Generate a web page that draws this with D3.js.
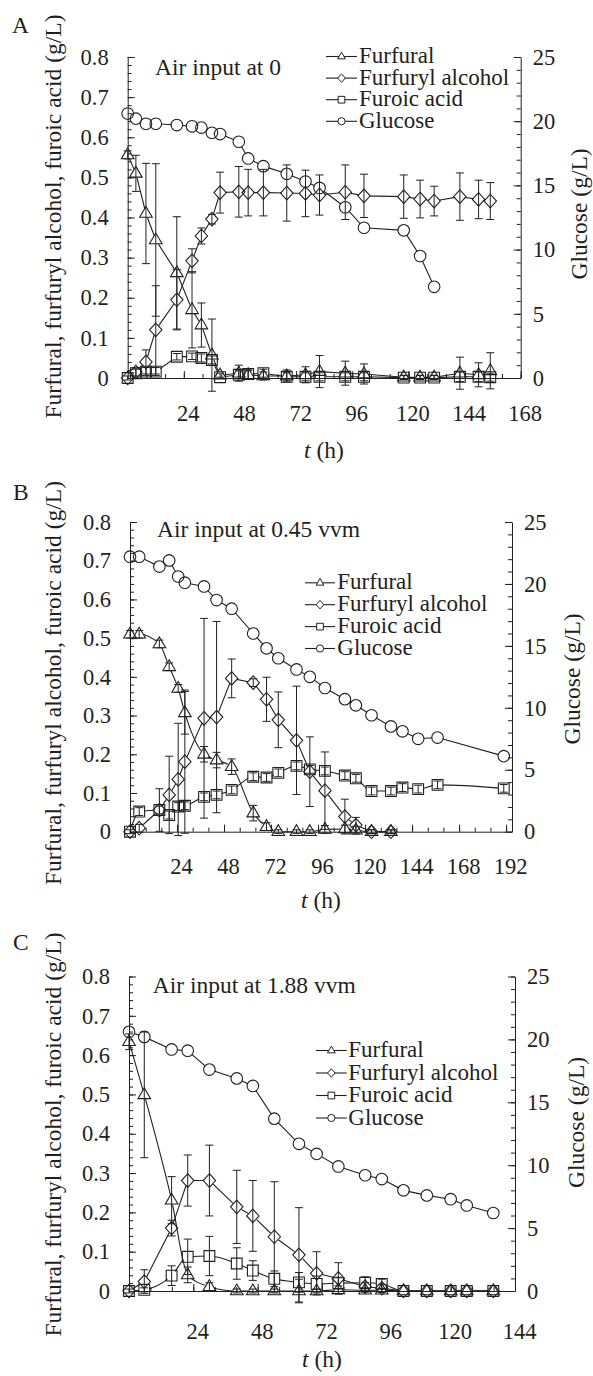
<!DOCTYPE html>
<html>
<head>
<meta charset="utf-8">
<script src="https://cdn.jsdelivr.net/npm/d3@7"></script>
<style>
  body { margin: 0; background: #fff; }
  svg text { font-family: "Liberation Serif", "Times New Roman", serif; fill: #231f20; }
</style>
</head>
<body>
<div id="chart"></div>
<script>
// ---- data ----
var seriesNames = ["Furfural", "Furfuryl alcohol", "Furoic acid", "Glucose"];
var leftTicks = [0, 0.1, 0.2, 0.3, 0.4, 0.5, 0.6, 0.7, 0.8];
var rightTicks = [0, 5, 10, 15, 20, 25];
var xTicksA = [24, 48, 72, 96, 120, 144, 168];
var xTicksB = [24, 48, 72, 96, 120, 144, 168, 192];
var xTicksC = [24, 48, 72, 96, 120, 144];

// A: air input at 0
var timeA = [0, 3.5, 7.8, 12, 21, 27.5, 31.5, 36, 39.5, 47.5, 51.5, 58, 68, 76, 82, 93, 101, 118, 125, 131, 142, 150, 155];
var furfuralA = [0.556, 0.51, 0.41, 0.344, 0.262, 0.17, 0.132, 0.057, 0.007, 0.012, 0.008, 0.005, 0.005, 0.008, 0.016, 0.012, 0.01, 0.002, 0.002, 0.002, 0.012, 0.008, 0.018];
var furfuralErrA = [0.01, 0.045, 0.125, 0.19, 0.14, 0.095, 0.055, 0.09, 0.005, 0.02, 0.01, 0.01, 0.015, 0.02, 0.04, 0.03, 0.025, 0.005, 0.005, 0.005, 0.04, 0.03, 0.045];
var alcoholA = [0, 0.015, 0.04, 0.12, 0.195, 0.292, 0.354, 0.396, 0.462, 0.464, 0.462, 0.462, 0.461, 0.46, 0.456, 0.463, 0.454, 0.452, 0.446, 0.441, 0.452, 0.445, 0.441];
var alcoholErrA = [0.005, 0.01, 0.03, 0.11, 0.075, 0.03, 0.02, 0.012, 0.051, 0.063, 0.058, 0.058, 0.07, 0.058, 0.05, 0.068, 0.054, 0.054, 0.047, 0.037, 0.059, 0.048, 0.046];
var furoicA = [0, 0.012, 0.016, 0.016, 0.053, 0.054, 0.05, 0.045, 0.002, 0.008, 0.01, 0.012, 0.003, 0.003, 0.003, 0.003, 0.003, 0.001, 0.001, 0.001, 0.003, 0.003, 0.002];
var furoicErrA = [0.002, 0.01, 0.01, 0.01, 0.008, 0.008, 0.01, 0.01, 0.003, 0.01, 0.012, 0.01, 0.01, 0.01, 0.01, 0.01, 0.01, 0.005, 0.005, 0.005, 0.012, 0.012, 0.01];
var glucoseA = [20.6, 20.2, 19.8, 19.8, 19.7, 19.6, 19.5, 19.1, 19.0, 18.4, 17.1, 16.5, 15.9, 15.3, 14.8, 13.3, 11.7, 11.5, 9.5, 7.1];

// B: air input at 0.45 vvm
var timeB = [0, 4.7, 15, 20, 24.6, 28, 37.8, 44.2, 51.9, 62.9, 69.7, 75.7, 85, 91.8, 99.5, 109.7, 115.3, 123.3, 133.2, 139.1, 147.1, 157, 190.8];
var furfuralB = [0.51, 0.51, 0.485, 0.426, 0.37, 0.307, 0.2, 0.185, 0.168, 0.048, 0.013, 0, 0, 0, 0.006, 0.007, 0.004, 0, 0];
var furfuralErrB = [0.01, 0.01, 0.01, 0.01, 0.01, 0.055, 0.02, 0.02, 0.02, 0.02, 0.01, 0.005, 0.005, 0.005, 0.01, 0.01, 0.01, 0.005, 0.005];
var alcoholB = [0, 0.009, 0.056, 0.095, 0.135, 0.181, 0.293, 0.296, 0.396, 0.385, 0.342, 0.289, 0.236, 0.155, 0.106, 0.039, 0.017, 0, 0];
var alcoholErrB = [0.005, 0.01, 0.055, 0.1, 0.145, 0.185, 0.258, 0.247, 0.05, 0.01, 0.057, 0.072, 0.14, 0.09, 0.1, 0.045, 0.02, 0.005, 0.005];
var furoicB = [0, 0.052, 0.056, 0.043, 0.065, 0.067, 0.09, 0.095, 0.108, 0.142, 0.14, 0.152, 0.17, 0.161, 0.157, 0.145, 0.138, 0.105, 0.105, 0.114, 0.11, 0.121, 0.112];
var furoicErrB = [0.002, 0.01, 0.01, 0.01, 0.01, 0.01, 0.01, 0.01, 0.01, 0.01, 0.01, 0.01, 0.01, 0.01, 0.01, 0.01, 0.01, 0.01, 0.01, 0.01, 0.01, 0.01, 0.01];
var glucoseB = [22.2, 22.2, 21.4, 21.9, 20.6, 20.1, 19.8, 18.7, 18.0, 16.0, 14.8, 14.0, 13.1, 12.5, 11.6, 10.7, 10.2, 9.4, 8.5, 8.1, 7.5, 7.6, 6.1];

// C: air input at 1.88 vvm
var timeC = [0, 5.7, 15.9, 21.9, 30, 40.2, 46.2, 54.2, 63.4, 70, 78.1, 88.1, 94.3, 102.4, 111.1, 120, 126, 135.9];
var furfuralC = [0.634, 0.499, 0.231, 0.041, 0.011, 0, 0, 0, 0, 0, 0.003, 0.002, 0.002, 0, 0, 0, 0, 0];
var furfuralErrC = [0.02, 0.16, 0.06, 0.02, 0.01, 0.005, 0.005, 0.005, 0.03, 0.005, 0.01, 0.005, 0.005, 0.002, 0.002, 0.002, 0.002, 0.002];
var alcoholC = [0, 0.024, 0.16, 0.281, 0.281, 0.214, 0.191, 0.138, 0.092, 0.045, 0.032, 0.011, 0.007, 0, 0, 0, 0, 0];
var alcoholErrC = [0.005, 0.03, 0.02, 0.065, 0.09, 0.093, 0.09, 0.14, 0.12, 0.055, 0.04, 0.01, 0.01, 0.002, 0.002, 0.002, 0.002, 0.002];
var furoicC = [0, 0.003, 0.039, 0.087, 0.089, 0.07, 0.052, 0.031, 0.022, 0.018, 0.02, 0.021, 0.018, 0, 0, 0, 0, 0];
var furoicErrC = [0.002, 0.005, 0.025, 0.045, 0.05, 0.04, 0.025, 0.02, 0.025, 0.02, 0.015, 0.015, 0.012, 0.002, 0.002, 0.002, 0.002, 0.002];
var glucoseC = [20.6, 20.2, 19.2, 19.1, 17.6, 16.9, 16.3, 13.7, 11.7, 10.9, 9.9, 9.2, 8.9, 8.0, 7.6, 7.3, 6.8, 6.2];

// ---- layout ----
var svgWidth = 593;
var svgHeight = 1376;
var ink = "#231f20";

var panels = [
  { id: "A", note: "Air input at 0", left: 127.7, right: 520.7, top: 57, bottom: 378, xMax: 168, xTicks: xTicksA, xPad: 27,
    letter: [12, 33], noteAt: [155, 75], legend: { x1: 326, x2: 357, tx: 359, y0: 63, dy: 21.6 },
    leftTitle: [53, 216.5], rightTitle: [578.5, 214], xTitle: [324, 458], smooth: [false, false, false, false],
    time: timeA, vals: [furfuralA, alcoholA, furoicA], errs: [furfuralErrA, alcoholErrA, furoicErrA], glucose: glucoseA },
  { id: "B", note: "Air input at 0.45 vvm", left: 130, right: 512, top: 522, bottom: 831.7, xMax: 195, xTicks: xTicksB, xPad: 26,
    letter: [13, 500], noteAt: [157, 537], legend: { x1: 305, x2: 335, tx: 337.3, y0: 589.3, dy: 21.9 },
    leftTitle: [53, 683], rightTitle: [571.5, 679], xTitle: [321, 908], smooth: [true, false, true, false],
    time: timeB, vals: [furfuralB, alcoholB, furoicB], errs: [furfuralErrB, alcoholErrB, furoicErrB], glucose: glucoseB },
  { id: "C", note: "Air input at 1.88 vvm", left: 129, right: 515, top: 976.5, bottom: 1291, xMax: 144, xTicks: xTicksC, xPad: 32,
    letter: [13, 950], noteAt: [152.7, 992.7], legend: { x1: 316, x2: 346.7, tx: 348.3, y0: 1057, dy: 22.5 },
    leftTitle: [53, 1134.5], rightTitle: [575.5, 1122.5], xTitle: [322, 1367], smooth: [true, false, true, false],
    time: timeC, vals: [furfuralC, alcoholC, furoicC], errs: [furfuralErrC, alcoholErrC, furoicErrC], glucose: glucoseC }
];

var shapes = ["triangle", "diamond", "square", "circle"];

function shapePath(shape, k) {
  k = k || 1;
  if (shape === "triangle") return `M0,${-7 * k}L${6.3 * k},${3.8 * k}L${-6.3 * k},${3.8 * k}Z`;
  if (shape === "diamond") return `M0,${-6.8 * k}L${6.2 * k},0L0,${6.8 * k}L${-6.2 * k},0Z`;
  if (shape === "square") return `M${-5.4 * k},${-5.4 * k}H${5.4 * k}V${5.4 * k}H${-5.4 * k}Z`;
  var r = 5.8 * k;
  return `M${r},0A${r},${r} 0 1,1 ${-r},0A${r},${r} 0 1,1 ${r},0Z`;
}

var svg = d3.select("#chart").append("svg")
  .attr("width", svgWidth)
  .attr("height", svgHeight);
var defs = svg.append("defs");

panels.forEach(function(p) {
  var g = svg.append("g").attr("color", ink);

  var x = d3.scaleLinear().domain([0, p.xMax]).range([p.left, p.right]);
  var yL = d3.scaleLinear().domain([0, 0.8]).range([p.bottom, p.top]);
  var yR = d3.scaleLinear().domain([0, 25]).range([p.bottom, p.top]);

  // minor ticks
  g.append("g").attr("transform", `translate(0,${p.bottom})`)
    .call(d3.axisBottom(x).tickValues(d3.range(8, p.xMax + 1, 8)).tickSizeInner(-4).tickSizeOuter(0).tickFormat(""))
    .select(".domain").remove();
  g.append("g").attr("transform", `translate(${p.left},0)`)
    .call(d3.axisLeft(yL).tickValues(d3.range(0, 41).map(i => i * 0.02)).tickSizeInner(-4).tickSizeOuter(0).tickFormat(""))
    .select(".domain").remove();
  g.append("g").attr("transform", `translate(${p.right},0)`)
    .call(d3.axisRight(yR).tickValues(d3.range(0, 26)).tickSizeInner(-4).tickSizeOuter(0).tickFormat(""))
    .select(".domain").remove();

  // major axes
  var bottomAxis = g.append("g").attr("transform", `translate(0,${p.bottom})`)
    .call(d3.axisBottom(x).tickValues(p.xTicks).tickSizeInner(-7).tickSizeOuter(0).tickPadding(p.xPad));
  bottomAxis.selectAll("text").attr("dx", 4);
  var leftAxis = g.append("g").attr("transform", `translate(${p.left},0)`)
    .call(d3.axisLeft(yL).tickValues(leftTicks).tickSizeInner(-7).tickSizeOuter(0).tickPadding(19)
      .tickFormat(d => d === 0 ? "0" : d3.format(".1f")(d)));
  var rightAxis = g.append("g").attr("transform", `translate(${p.right},0)`)
    .call(d3.axisRight(yR).tickValues(rightTicks).tickSizeInner(-7).tickSizeOuter(0).tickPadding(12));
  [bottomAxis, leftAxis, rightAxis].forEach(function(a) {
    a.attr("font-family", null).attr("font-size", 22.5);
  });

  // axis titles
  g.append("text")
    .attr("transform", `translate(${p.leftTitle[0]},${p.leftTitle[1]}) rotate(-90)`)
    .attr("text-anchor", "middle").attr("dy", "0.35em").attr("font-size", 23.5)
    .text("Furfural, furfuryl alcohol, furoic acid (g/L)");
  g.append("text")
    .attr("transform", `translate(${p.rightTitle[0]},${p.rightTitle[1]}) rotate(-90)`)
    .attr("text-anchor", "middle").attr("dy", "0.35em").attr("font-size", 23.5)
    .text("Glucose (g/L)");
  var xt = g.append("text")
    .attr("x", p.xTitle[0]).attr("y", p.xTitle[1])
    .attr("text-anchor", "middle").attr("font-size", 23.5);
  xt.append("tspan").attr("font-style", "italic").text("t");
  xt.append("tspan").text(" (h)");

  g.append("text").attr("x", p.letter[0]).attr("y", p.letter[1]).attr("font-size", 23.5).text(p.id);
  g.append("text").attr("x", p.noteAt[0]).attr("y", p.noteAt[1]).attr("font-size", 23.5).text(p.note);

  // series
  var allSeries = p.vals.map(function(v, i) {
    return { shape: shapes[i], smooth: p.smooth[i], pts: v.map((d, j) => ({ x: x(p.time[j]), y: yL(d), lo: yL(d - p.errs[i][j]), hi: yL(d + p.errs[i][j]), e: p.errs[i][j] })) };
  });
  allSeries.push({ shape: "circle", smooth: p.smooth[3], pts: p.glucose.map((d, j) => ({ x: x(p.time[j]), y: yR(d), e: 0 })) });

  allSeries.forEach(function(s, i) {
    var mid = "m" + p.id + i;
    var mask = defs.append("mask").attr("id", mid).attr("maskUnits", "userSpaceOnUse")
      .attr("x", 0).attr("y", 0).attr("width", svgWidth).attr("height", svgHeight);
    mask.append("rect").attr("width", svgWidth).attr("height", svgHeight).attr("fill", "#fff");
    mask.selectAll("circle").data(s.pts).enter().append("circle")
      .attr("cx", d => d.x).attr("cy", d => d.y).attr("r", s.shape === "triangle" ? 4.6 : 5.4).attr("fill", "#000");

    var line = d3.line().x(d => d.x).y(d => d.y).curve(s.smooth ? d3.curveMonotoneX : d3.curveLinear);
    g.append("path").attr("d", line(s.pts)).attr("fill", "none")
      .attr("stroke", ink).attr("stroke-width", 1.1).attr("mask", `url(#${mid})`);

    // error bars
    var bars = g.append("g").attr("stroke", ink).attr("stroke-width", 1);
    s.pts.filter(d => d.e > 0.003).forEach(function(d) {
      bars.append("line").attr("x1", d.x).attr("x2", d.x).attr("y1", d.lo).attr("y2", d.hi);
      bars.append("line").attr("x1", d.x - 4).attr("x2", d.x + 4).attr("y1", d.lo).attr("y2", d.lo);
      bars.append("line").attr("x1", d.x - 4).attr("x2", d.x + 4).attr("y1", d.hi).attr("y2", d.hi);
    });

    g.append("g").selectAll("path").data(s.pts).enter().append("path")
      .attr("transform", d => `translate(${d.x},${d.y})`)
      .attr("d", shapePath(s.shape))
      .attr("fill", "none").attr("stroke", ink).attr("stroke-width", 1.1);
  });

  // legend
  var lg = g.append("g");
  seriesNames.forEach(function(name, i) {
    var base = p.legend.y0 + i * p.legend.dy;
    var ly = base - 6.5;
    var cx = (p.legend.x1 + p.legend.x2) / 2;
    lg.append("line").attr("x1", p.legend.x1).attr("x2", p.legend.x2).attr("y1", ly).attr("y2", ly)
      .attr("stroke", ink).attr("stroke-width", 1.1);
    lg.append("path").attr("transform", `translate(${cx},${ly})`).attr("d", shapePath(shapes[i], 0.62))
      .attr("fill", "#fff").attr("stroke", ink).attr("stroke-width", 1);
    lg.append("text").attr("x", p.legend.tx).attr("y", base).attr("font-size", 23).text(name);
  });
});
</script>
</body>
</html>
